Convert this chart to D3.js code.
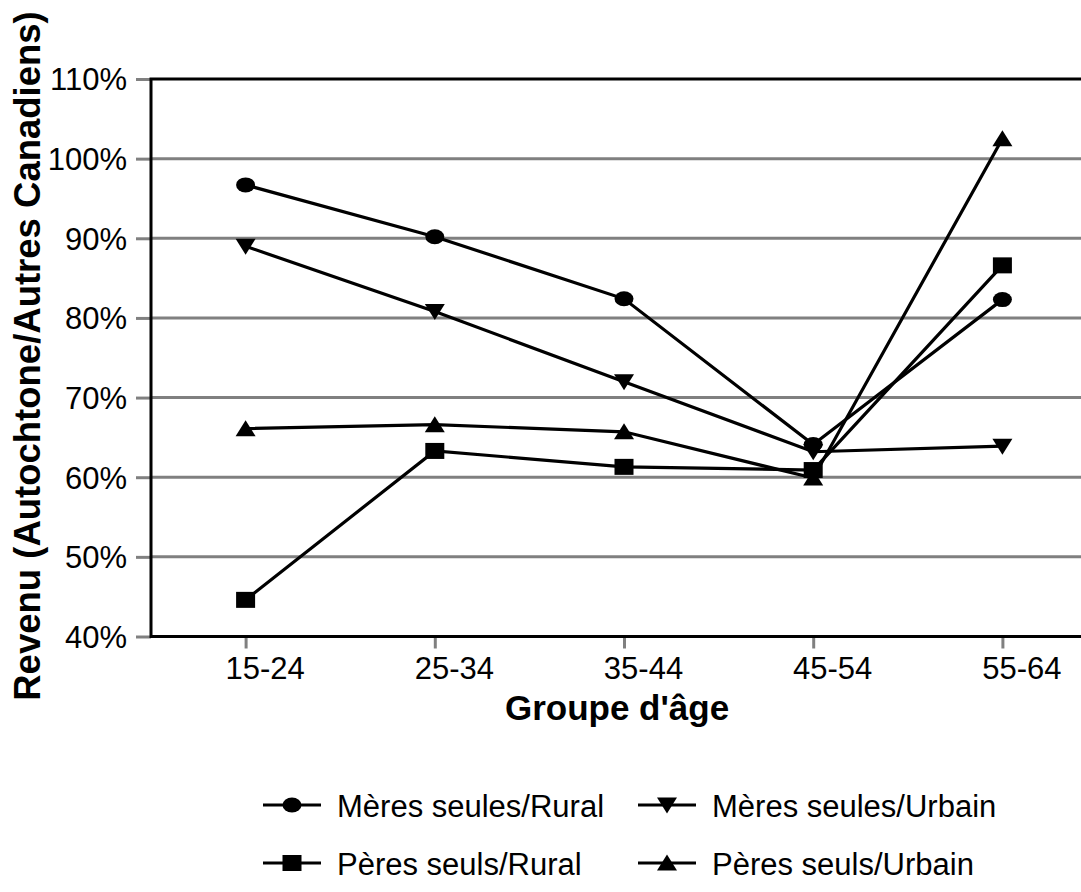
<!DOCTYPE html>
<html><head><meta charset="utf-8">
<script src="https://cdn.jsdelivr.net/npm/d3@7"></script>
<style>body{margin:0;background:#fff;} svg{display:block;font-family:"Liberation Sans",Arial,sans-serif;}</style>
</head><body>
<svg id="c" width="1081" height="892"></svg>
<script>
const categories = ["15-24","25-34","35-44","45-54","55-64"];
const seriesNames = ["Mères seules/Rural","Mères seules/Urbain","Pères seuls/Rural","Pères seuls/Urbain"];
const meresRural  = [96.7, 90.2, 82.4, 64.1, 82.3];
const meresUrbain = [89.0, 80.8, 72.0, 63.2, 63.9];
const peresRural  = [44.6, 63.3, 61.3, 60.9, 86.6];
const peresUrbain = [66.1, 66.6, 65.7, 59.9, 102.5];
const yTicks = [40,50,60,70,80,90,100,110];
const symbolsKind = ["circle","down","square","up"];

const svg = d3.select("#c");
const L = 151, R = 1097, T = 79, B = 636.5;
const x = d3.scalePoint().domain(categories).range([L, R]).padding(0.5);
const y = d3.scaleLinear().domain([40,110]).range([B, T]);
const FF = "Liberation Sans, Arial, sans-serif";

// gridlines
svg.append("g").selectAll("line").data(yTicks.filter(v=>v>40 && v<110)).join("line")
  .attr("x1", L).attr("x2", R).attr("y1", d=>y(d)).attr("y2", d=>y(d))
  .attr("stroke","#808080").attr("stroke-width",3);

// y axis
const yAxis = d3.axisLeft(y).tickValues(yTicks).tickFormat(d=>d+"%").tickSize(15).tickPadding(9);
const gy = svg.append("g").attr("transform",`translate(${L},0)`).call(yAxis);
gy.select(".domain").remove();
gy.selectAll(".tick line").attr("stroke","#808080").attr("stroke-width",3);
gy.selectAll(".tick text").attr("font-size",31).attr("fill","#000").attr("font-family",FF).attr("dy","0.35em");

// x axis
const xAxis = d3.axisBottom(x).tickSize(12).tickPadding(8);
const gx = svg.append("g").attr("transform",`translate(0,${B})`).call(xAxis);
gx.select(".domain").remove();
gx.selectAll(".tick line").attr("stroke","#808080").attr("stroke-width",3);
gx.selectAll(".tick text").attr("font-size",31).attr("fill","#000").attr("font-family",FF).attr("dy","0.71em").attr("x",19);

// frame
svg.append("rect").attr("x",L).attr("y",T).attr("width",R-L).attr("height",B-T)
  .attr("fill","none").attr("stroke","#000").attr("stroke-width",3);

// titles
svg.append("text").attr("x",617).attr("y",720).attr("text-anchor","middle")
  .attr("font-size",35).attr("font-weight","bold").text("Groupe d'âge");
svg.append("text").attr("transform",`translate(40,356) rotate(-90)`).attr("text-anchor","middle")
  .attr("font-size",36.5).attr("font-weight","bold").text("Revenu (Autochtone/Autres Canadiens)");

const allSeries = [meresRural, meresUrbain, peresRural, peresUrbain];

function drawMarker(g, kind, cx, cy){
  if(kind==="circle"){
    g.append("ellipse").attr("cx",cx).attr("cy",cy).attr("rx",9.5).attr("ry",7.5).attr("fill","#000");
  } else if(kind==="square"){
    g.append("rect").attr("x",cx-9.5).attr("y",cy-8).attr("width",19).attr("height",16).attr("fill","#000");
  } else if(kind==="down"){
    g.append("path").attr("d",`M${cx-10},${cy-7.5}L${cx+10},${cy-7.5}L${cx},${cy+8.5}Z`).attr("fill","#000");
  } else {
    g.append("path").attr("d",`M${cx-10},${cy+7.5}L${cx+10},${cy+7.5}L${cx},${cy-8.5}Z`).attr("fill","#000");
  }
}

const line = d3.line().x((d,i)=>x(categories[i])).y(d=>y(d));
allSeries.forEach((vals, si)=>{
  const g = svg.append("g");
  g.append("path").attr("d", line(vals)).attr("fill","none").attr("stroke","#000").attr("stroke-width",3.2);
  vals.forEach((v,i)=>drawMarker(g, symbolsKind[si], x(categories[i]), y(v)));
});

// legend
const legPos = [[263,805],[638,805],[263,863],[638,863]];
seriesNames.forEach((name, si)=>{
  const [lx, ly] = legPos[si];
  const g = svg.append("g");
  g.append("line").attr("x1",lx).attr("x2",lx+58).attr("y1",ly).attr("y2",ly).attr("stroke","#000").attr("stroke-width",3.2);
  drawMarker(g, symbolsKind[si], lx+29, ly);
  g.append("text").attr("x",lx+74).attr("y",ly+12).attr("font-size",31).text(name);
});
</script>
</body></html>
